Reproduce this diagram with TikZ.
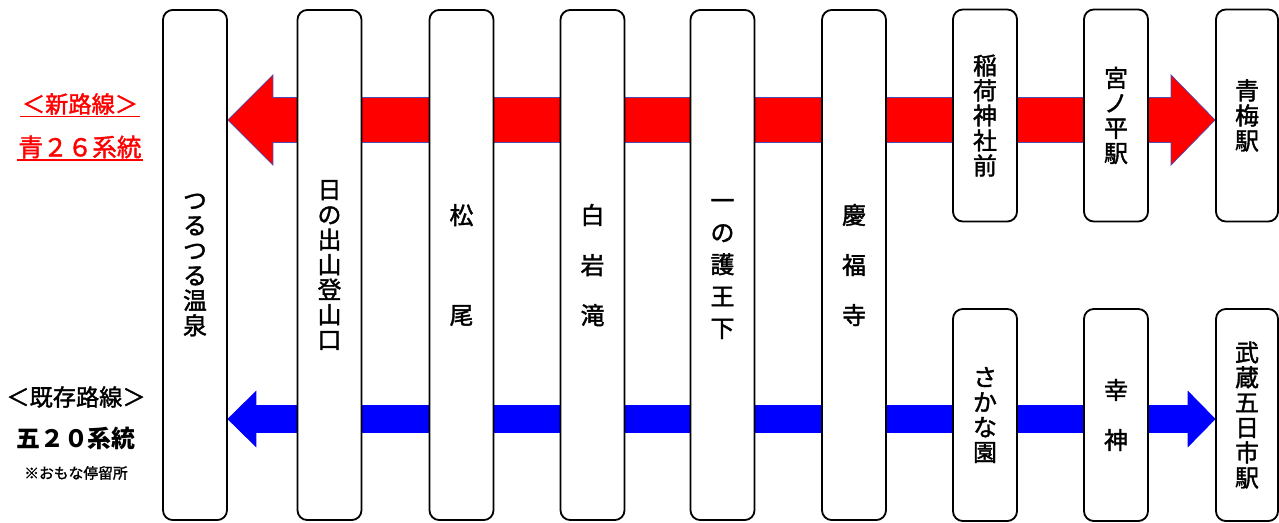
\documentclass[tikz,border=0pt]{standalone}
\usepackage{fontspec}
\setmainfont{Noto Sans CJK JP}
\newfontfamily\medfont{Noto Sans CJK JP}[FakeBold=1.6]
\usetikzlibrary{calc,backgrounds}

\begin{document}
\begin{tikzpicture}[x=0.025cm, y=-0.025cm,
        stopbox/.style={draw, line width=1.3pt, rounded corners=7pt, fill=white,
            minimum width=1.6cm, inner sep=0pt, align=center,
            font=\medfont\fontsize{17}{17.8}\selectfont},
        tallbox/.style={stopbox, minimum height=12.75cm},
        shortbox/.style={stopbox, minimum height=5.3cm},
        spaced/.style={font=\medfont\fontsize{17}{35.6}\selectfont},
        routename/.style={inner sep=1pt, font=\medfont\fontsize{16.5}{16.5}\selectfont},
        routeno/.style={inner sep=1pt, font=\bfseries\fontsize{17}{17}\selectfont},
        newroute/.style={fill=red, draw=blue!40!gray, line width=0.5pt},
        oldroute/.style={fill=blue, draw=blue, line width=0.5pt}]
        \useasboundingbox (0,0) rectangle (1279,522);
        \node [tallbox] (onsen) at (195,265) {つ\\る\\つ\\る\\温\\泉};
        \node [tallbox] (hinode) at (329.5,265) {日\\の\\出\\山\\登\\山\\口};
        \node [tallbox, font=\medfont\fontsize{17}{71}\selectfont] (matsuo) at (461.5,265) {松\\尾};
        \node [tallbox, spaced] (shiraiwa) at (592.5,265) {白\\岩\\滝};
        \node [tallbox, font=\medfont\fontsize{17}{22.7}\selectfont] (gonou) at (722.5,265) {一\vphantom{王}\\の\\護\\王\\下};
        \node [tallbox, spaced] (keifuku) at (854,265) {慶\\福\\寺};
        \node [shortbox] (inari) at (985,115.5) {稲\\荷\\神\\社\\前};
        \node [shortbox] (miyanohira) at (1116,115.5) {宮\\ノ\\平\\駅};
        \node [shortbox, minimum width=1.55cm] (ome) at (1247,115.5) {青\\梅\\駅};
        \node [shortbox] (sakana) at (985,415) {さ\\か\\な\\園};
        \node [shortbox, spaced] (saijin) at (1116,415) {幸\\神};
        \node [shortbox, minimum width=1.55cm] (itsuka) at (1247,415) {武\\蔵\\五\\日\\市\\駅};
        \node [routename, text=red] (newname) at (80,104) {＜新路線＞};
        \node [routename, text=red, font=\medfont\fontsize{17.5}{17.5}\selectfont] (newno) at (80,147) {青２６系統};
        \draw [red, line width=1.2pt] (newname.south west) -- (newname.south east);
        \draw [red, line width=1.2pt] (newno.south west) -- (newno.south east);
        \node [routename] (oldname) at (76,397) {＜既存路線＞};
        \node [routeno] (oldno) at (76,438) {五２０系統};
        \node [font=\medfont\fontsize{10.5}{10.5}\selectfont] (note) at (76,473) {※おもな停留所};
        \begin{scope}[on background layer]
        \coordinate (newL) at (onsen.east |- 0,120);
        \coordinate (newR) at (ome.west |- 0,120);
        \coordinate (oldL) at (onsen.east |- 0,419);
        \coordinate (oldR) at (itsuka.west |- 0,419);
        \filldraw [newroute] (newL) -- ++(45,-45) -- ++(0,22.5) -- ($(newR)+(-44,-22.5)$) -- ++(0,-22.5) -- (newR)
            -- ++(-44,45) -- ++(0,-22.5) -- ($(newL)+(45,22.5)$) -- ++(0,22.5) -- cycle;
        \filldraw [oldroute] (oldL) -- ++(28,-27.5) -- ++(0,14) -- ($(oldR)+(-27,-13.5)$) -- ++(0,-14) -- (oldR)
            -- ++(-27,27.5) -- ++(0,-14) -- ($(oldL)+(28,13.5)$) -- ++(0,14) -- cycle;
        \end{scope}
    \end{tikzpicture}
\end{document}
